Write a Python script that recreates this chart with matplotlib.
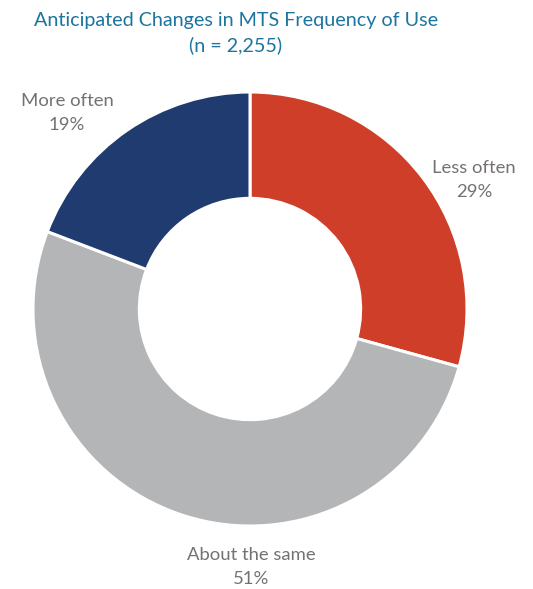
import matplotlib
matplotlib.use("Agg")
import matplotlib.pyplot as plt

# Survey responses
categories = ["Less often", "About the same", "More often"]
shares = [29, 51, 19]
colors = ["#CF3E28", "#B4B5B7", "#1F3B6F"]

title = "Anticipated Changes in MTS Frequency of Use\n(n = 2,255)"

plt.rcParams["font.family"] = ["Lato", "DejaVu Sans"]

W, H = 533, 589
fig = plt.figure(figsize=(W / 100, H / 100), dpi=100)

# donut: centre (250, 309) px, outer radius 217 px
cx, cy, r = 250, 309, 217
ax = fig.add_axes([(cx - r) / W, (H - cy - r) / H, 2 * r / W, 2 * r / H])
ax.pie(shares, colors=colors, startangle=90, counterclock=False, radius=1.0,
       wedgeprops=dict(width=0.49, edgecolor="white", linewidth=2.2))
ax.set_xlim(-1, 1)
ax.set_ylim(-1, 1)
ax.set_aspect("equal")
ax.axis("off")

# label placement offsets (axes units, relative to centre)
label_pos = {
    "Less often": (224 / r, 129 / r),
    "About the same": (1 / r, -258 / r),
    "More often": (-183 / r, 196 / r),
}
for cat, val in zip(categories, shares):
    x, y = label_pos[cat]
    ax.text(x, y, f"{cat}\n{val}%", ha="center", va="center", fontsize=13.3,
            color="#767171", linespacing=1.55, clip_on=False)

fig.text(236 / W, 1 - 33 / H, title, ha="center", va="center", fontsize=14.2,
         color="#1C74A0", linespacing=1.45)

fig.savefig("out.png", dpi=100)
